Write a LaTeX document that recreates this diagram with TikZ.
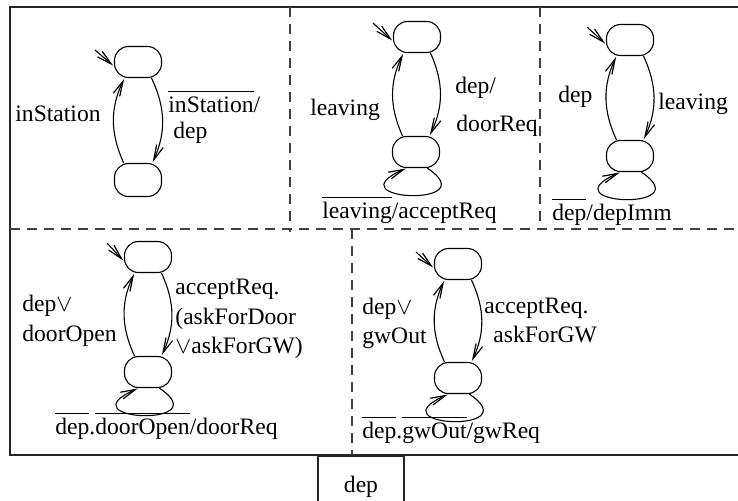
\documentclass[tikz,border=0pt]{standalone}
\usepackage{fontspec}
\setmainfont{Liberation Serif}
\usetikzlibrary{arrows.meta}
\newcommand\ovl[1]{\vbox{\hrule height 0.45pt\kern 2pt\hbox{#1}}}
\begin{document}
\begin{tikzpicture}[x=0.5pt,y=-0.5pt,
  st/.style={draw,rounded corners=7pt,minimum width=23.5pt,minimum height=15.5pt,inner sep=0pt,line width=0.55pt},
  tr/.style={line width=0.55pt,-{Straight Barb[length=7.5pt,width=3.6pt,line width=0.6pt]},shorten >=0.5pt},
  lbl/.style={anchor=base west,inner sep=0pt,font=\fontsize{11.8}{14}\selectfont},
  frame/.style={line width=0.8pt,draw=black!85},
  part/.style={dash pattern=on 5pt off 3.5pt,draw=black!75,line width=0.6pt}]
\useasboundingbox (0,0) rectangle (738,500);
\clip (0,0) rectangle (738,500);
% frame
\draw[frame] (10,7) rectangle (760,455);
\node[draw=black!85,line width=0.7pt,minimum width=43pt,minimum height=30pt,anchor=north,inner sep=0pt,
  font=\fontsize{11.8}{14}\selectfont] (depbox) at (361,456) {dep};
% partitions
\draw[part] (10,229) -- (738,229);
\draw[part] (290,7) -- (290,232);
\draw[part] (540,7) -- (540,229);
\draw[part] (352,229) -- (352,455);

% panel 1
\node[st] (A1) at (138,62) {};
\node[st,minimum height=16.5pt] (B1) at (138,180) {};
\coordinate (I1) at (95,50);
\draw[tr] (I1) -- (A1.190);
\draw[tr] (A1.-50) to[bend left=25] (B1.50);
\draw[tr] (B1.130) to[bend left=25] (A1.230);
\node[lbl] (l1a) at (15,121) {inStation};
\node[lbl] (l1b) at (168,112) {\ovl{inStation}/};
\node[lbl] (l1c) at (173,138) {dep};

% panel 2
\node[st] (A2) at (417,37) {};
\node[st] (B2) at (416,152) {};
\coordinate (I2) at (373,23);
\draw[tr] (I2) -- (A2.190);
\draw[tr] (A2.-50) to[bend left=25] (B2.50);
\draw[tr] (B2.130) to[bend left=25] (A2.230);
\draw[tr] (B2.-55) .. controls +(60,40) and +(-75,33) .. (B2.-120);
\node[lbl] (l2a) at (310,115) {leaving};
\node[lbl] (l2b) at (455,93) {dep/};
\node[lbl] (l2c) at (456,131) {doorReq};
\node[lbl] (l2d) at (322,218) {\ovl{leaving}/acceptReq};

% panel 3
\node[st] (A3) at (630,40) {};
\node[st] (B3) at (630,156) {};
\coordinate (I3) at (587,27);
\draw[tr] (I3) -- (A3.190);
\draw[tr] (A3.-50) to[bend left=25] (B3.50);
\draw[tr] (B3.130) to[bend left=25] (A3.230);
\draw[tr] (B3.-55) .. controls +(60,40) and +(-75,33) .. (B3.-120);
\node[lbl] (l3a) at (558,102) {dep};
\node[lbl] (l3b) at (658,109) {leaving};
\node[lbl] (l3c) at (552,220) {\ovl{dep}/depImm};

% panel 4
\node[st] (A4) at (148,257) {};
\node[st] (B4) at (148,372) {};
\coordinate (I4) at (107,243);
\draw[tr] (I4) -- (A4.190);
\draw[tr] (A4.-50) to[bend left=25] (B4.50);
\draw[tr] (B4.130) to[bend left=25] (A4.230);
\draw[tr] (B4.-55) .. controls +(60,40) and +(-75,33) .. (B4.-120);
\node[lbl] (l4a) at (22,311) {dep$\vee$};
\node[lbl] (l4b) at (22,341) {doorOpen};
\node[lbl] (l4c) at (175,294) {acceptReq.};
\node[lbl] (l4d) at (175,324) {(askForDoor};
\node[lbl] (l4e) at (175,353) {$\vee$askForGW)};
\node[lbl] (l4f) at (55,434) {\ovl{dep}.\ovl{doorOpen}/doorReq};

% panel 5
\node[st] (A5) at (458,264) {};
\node[st] (B5) at (458,378) {};
\coordinate (I5) at (416,252);
\draw[tr] (I5) -- (A5.190);
\draw[tr] (A5.-50) to[bend left=25] (B5.50);
\draw[tr] (B5.130) to[bend left=25] (A5.230);
\draw[tr] (B5.-55) .. controls +(60,40) and +(-75,33) .. (B5.-120);
\node[lbl] (l5a) at (362,314) {dep$\vee$};
\node[lbl] (l5b) at (362,343) {gwOut};
\node[lbl] (l5c) at (484,313) {acceptReq.};
\node[lbl] (l5d) at (493,342) {askForGW};
\node[lbl] (l5e) at (362,438) {\ovl{dep}.\ovl{gwOut}/gwReq};
\end{tikzpicture}
\end{document}
